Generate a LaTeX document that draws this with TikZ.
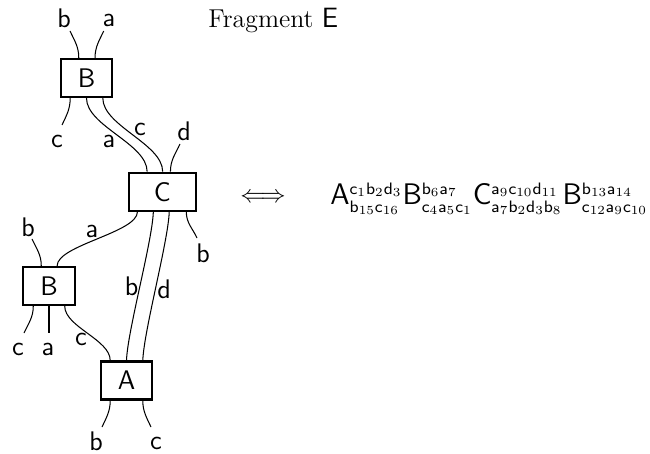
\documentclass[tikz,border=0pt]{standalone}
\usepackage[dvipsnames]{xcolor}
\DeclareMathSizes{13.5}{13.5}{8.3}{6}

\begin{document}
\begin{tikzpicture}[-,x=0.017cm,y=-0.017cm,font=\sffamily\fontsize{13}{15}\selectfont,
    box node/.style={rectangle,draw,line width=1.1pt,minimum height=0.646cm,inner sep=0pt},
    small node/.style={box node,minimum width=0.877cm},
    wide node/.style={box node,minimum width=1.134cm},
    wire/.style={line width=0.5pt},
    lab/.style={inner sep=0pt}]

                \useasboundingbox (0,0) rectangle (650,454);

                \node[small node] (B1) at (86.5,78) {B};
                \node[wide node] (C) at (162.3,191.7) {C};
                \node[small node] (B2) at (49,286) {B};
                \node[small node] (A) at (126.5,380.5) {A};

                \coordinate (e1) at (70,31);
                \coordinate (e2) at (103.7,31);
                \coordinate (e3) at (62,125);
                \coordinate (e4) at (180,144);
                \coordinate (e5) at (197,238);
                \coordinate (e6) at (32,239);
                \coordinate (e7) at (24,333);
                \coordinate (e8) at (49,333);
                \coordinate (e9) at (102,427);
                \coordinate (e10) at (151,427);

                \draw[wire] (B1.111) to[out=90,in=-65] (e1);
                \draw[wire] (B1.67) to[out=90,in=-115] (e2);
                \draw[wire] (B1.231) to[out=-90,in=65] (e3);
                \draw[wire] (B1.270) to[out=-90,in=90,looseness=0.75] (C.127);
                \draw[wire] (B1.309) to[out=-90,in=90,looseness=0.75] (C.89);
                \draw[wire] (C.68) to[out=90,in=-115] (e4);
                \draw[wire] (C.320) to[out=-90,in=115] (e5);
                \draw[wire] (C.219) to[out=-90,in=90,looseness=0.55] (B2.68);
                \draw[wire] (C.246) to[out=-92,in=88,looseness=0.5] (A.90);
                \draw[wire] (C.289) to[out=-92,in=88,looseness=0.5] (A.51);
                \draw[wire] (B2.111) to[out=90,in=-65] (e6);
                \draw[wire] (B2.232) to[out=-90,in=65] (e7);
                \draw[wire] (B2.270) to (e8);
                \draw[wire] (B2.308) to[out=-90,in=90,looseness=0.75] (A.129);
                \draw[wire] (A.231) to[out=-90,in=65] (e9);
                \draw[wire] (A.309) to[out=-90,in=115] (e10);

                \node[lab] (l1) at (64,18) {b};
                \node[lab] (l2) at (109,20) {a};
                \node[lab] (l3) at (57,141) {c};
                \node[lab] (l4) at (109,141) {a};
                \node[lab] (l5) at (140,129) {c};
                \node[lab] (l6) at (184,131) {d};
                \node[lab] (l7) at (28,227) {b};
                \node[lab] (l8) at (92,231) {a};
                \node[lab] (l9) at (203,253) {b};
                \node[lab] (l10) at (131.5,286) {b};
                \node[lab] (l11) at (164,289) {d};
                \node[lab] (l12) at (18,349) {c};
                \node[lab] (l13) at (48,349) {a};
                \node[lab] (l14) at (81,339) {c};
                \node[lab] (l15) at (96,441) {b};
                \node[lab] (l16) at (156,443) {c};

                \node[lab,anchor=base west] (title) at (208,28) {\rmfamily\fontsize{12.5}{15}\selectfont Fragment \sffamily\fontsize{13.5}{15}\selectfont E};
                \node[lab] (iff) at (263,198) {\fontsize{12}{14}\selectfont$\Longleftrightarrow$};
                \node[lab,anchor=base west] (word) at (330,205) {\fontsize{13.5}{15}\selectfont$\mathsf{A}^{\mathsf{c}_1\mathsf{b}_2\mathsf{d}_3}_{\mathsf{b}_{15}\mathsf{c}_{16}}
                    \mathsf{B}^{\mathsf{b}_6\mathsf{a}_7}_{\mathsf{c}_4\mathsf{a}_5\mathsf{c}_1}
                    \mathsf{C}^{\mathsf{a}_9\mathsf{c}_{10}\mathsf{d}_{11}}_{\mathsf{a}_7\mathsf{b}_2\mathsf{d}_3\mathsf{b}_8}
                    \mathsf{B}^{\mathsf{b}_{13}\mathsf{a}_{14}}_{\mathsf{c}_{12}\mathsf{a}_9\mathsf{c}_{10}}$};

            \end{tikzpicture}
\end{document}
